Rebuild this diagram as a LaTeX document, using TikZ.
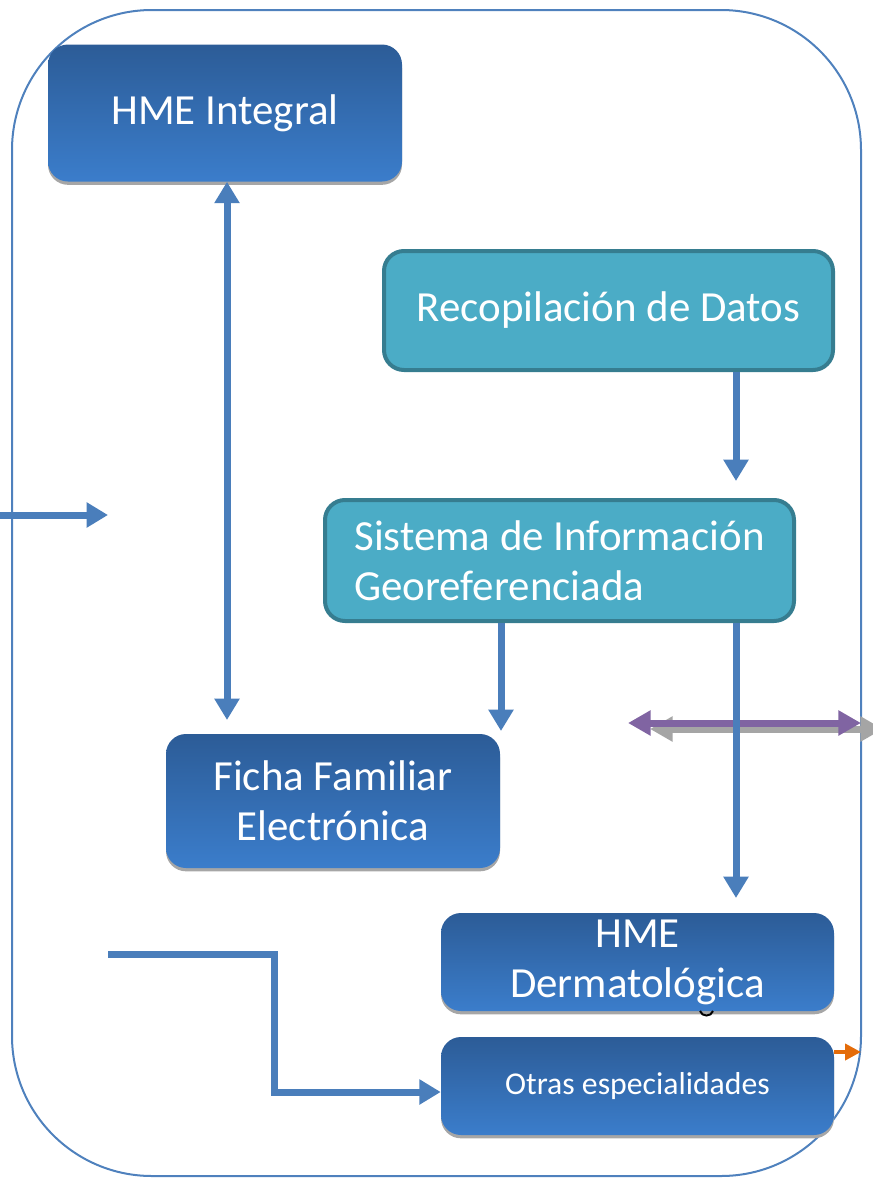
\documentclass[tikz,border=0pt]{standalone}
\usepackage{fontspec}
\setmainfont{Carlito}
\usetikzlibrary{arrows.meta,shadows}
\definecolor{frameblue}{HTML}{4F81BD}
\definecolor{arrblue}{HTML}{4A7EBB}
\definecolor{darktop}{HTML}{2C5C97}
\definecolor{darkbot}{HTML}{3B7DCB}
\definecolor{tealfill}{HTML}{4BACC6}
\definecolor{tealedge}{HTML}{367D90}
\definecolor{purp}{HTML}{8064A2}
\definecolor{shadowgray}{HTML}{A5A5A5}
\definecolor{orng}{HTML}{E46C0A}
\tikzset{
  darkbox/.style={rounded corners=15pt, top color=darktop, bottom color=darkbot, draw=none,
    text=white, align=center, inner sep=0pt,
    drop shadow={shadow xshift=0pt, shadow yshift=-2.5pt, fill=black!35, opacity=1}},
  tealbox/.style={rounded corners=15pt, fill=tealfill, draw=tealedge, line width=3pt,
    text=white, inner sep=0pt},
  bigtext/.style={font=\fontsize{32.2}{37.5}\selectfont},
  smalltext/.style={font=\fontsize{23.8}{28}\selectfont},
  arr/.style={draw=arrblue, line width=5.25pt, -{Triangle[width=18pt,length=16pt]}},
  dbl/.style={draw=arrblue, line width=5.25pt, {Triangle[width=18pt,length=16pt]}-{Triangle[width=18pt,length=16pt]}},
  purparr/.style={draw=purp, line width=5.25pt, {Triangle[width=18pt,length=17pt]}-{Triangle[width=18pt,length=17pt]}},
  grayarr/.style={draw=shadowgray, line width=5.25pt, {Triangle[width=18pt,length=17pt]}-{Triangle[width=18pt,length=17pt]}},
  orngarr/.style={draw=orng, line width=3pt, -{Triangle[width=12pt,length=12pt]}},
  frame/.style={draw=frameblue, line width=1.5pt, rounded corners=105pt}
}
\begin{document}
\begin{tikzpicture}[x=0.75pt,y=-0.75pt]
\useasboundingbox (0,0) rectangle (873,1178);
\draw[frame] (12,10) rectangle (861,1176);

\node[darkbox, bigtext, minimum width=265.5pt, minimum height=102.75pt] (hmeint) at (225,113) {HME Integral};
\node[tealbox, bigtext, minimum width=336.75pt, minimum height=89.25pt] (rec) at (608.5,310.5) {Recopilación de Datos};
\node[tealbox, bigtext, align=left, minimum width=351.75pt, minimum height=90.75pt] (sys) at (559.5,560.5) {Sistema de Información\\Georeferenciada};
\node[darkbox, bigtext, minimum width=250.5pt, minimum height=100.5pt] (ficha) at (333,801) {Ficha Familiar\\Electrónica};
\node[darkbox, bigtext, minimum width=294.75pt, minimum height=73.5pt] (derm) at (637.5,962) {HME\\Dermatológica};
\node[darkbox, smalltext, minimum width=294.75pt, minimum height=73.5pt] (otras) at (637.5,1086) {Otras especialidades};
\draw[line width=1.5pt] (700,1011) .. controls (702,1017) and (711,1017) .. (713,1011);

\coordinate (p1) at (227,720);
\draw[dbl] (hmeint.south -| p1) -- (p1);

\coordinate (lin) at (0,515);
\coordinate (lout) at (108,515);
\draw[arr] (lin) -- (lout);

\coordinate (c2) at (736,481);
\draw[arr] (rec.south -| c2) -- (c2);

\coordinate (c3) at (501,731);
\draw[arr] (sys.south -| c3) -- (c3);

\coordinate (gl) at (650,729);
\coordinate (gr) at (883,729);
\draw[grayarr] (gl) -- (gr);
\coordinate (pl) at (628,723);
\coordinate (pr) at (861,723);
\draw[purparr] (pl) -- (pr);

\coordinate (c4) at (736,898);
\draw[arr] (sys.south -| c4) -- (c4);

\coordinate (e0) at (108,954);
\coordinate (e1) at (274,1092);
\draw[arr] (e0) -| (e1) -- (e1 -| otras.west);

\coordinate (o1) at (861,1052);
\draw[orngarr] (o1 -| otras.east) -- (o1);
\end{tikzpicture}
\end{document}
